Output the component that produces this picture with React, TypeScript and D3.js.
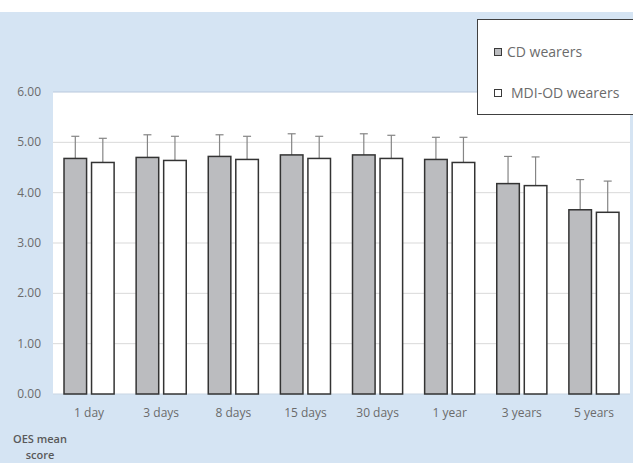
import React from 'react';
import * as d3 from 'd3';

const categories = ['1 day', '3 days', '8 days', '15 days', '30 days', '1 year', '3 years', '5 years'];
const cdMeans = [4.68, 4.70, 4.72, 4.75, 4.75, 4.66, 4.18, 3.66];
const cdUpper = [5.12, 5.15, 5.15, 5.17, 5.17, 5.10, 4.72, 4.26];
const mdiMeans = [4.60, 4.64, 4.66, 4.68, 4.68, 4.60, 4.14, 3.61];
const mdiUpper = [5.08, 5.12, 5.12, 5.12, 5.14, 5.10, 4.71, 4.23];
const yTicks = [0, 1, 2, 3, 4, 5, 6];
const seriesNames = ['CD wearers', 'MDI-OD wearers'];

const W = 633;
const H = 463;
const plot = { left: 53, right: 630, top: 92, bottom: 394 };
const font = '"Open Sans", "DejaVu Sans", sans-serif';

export default function App() {
  const x = d3.scaleBand<string>()
    .domain(categories)
    .range([plot.left, plot.right])
    .paddingInner(0)
    .paddingOuter(0);
  const y = d3.scaleLinear().domain([0, 6]).range([plot.bottom, plot.top]);
  const sub = d3.scaleBand<number>()
    .domain([0, 1])
    .range([0, x.bandwidth()])
    .paddingInner(0.18)
    .paddingOuter(0.4);

  const series = [
    { means: cdMeans, upper: cdUpper, fill: '#BBBCBF' },
    { means: mdiMeans, upper: mdiUpper, fill: '#FFFFFF' },
  ];

  return (
    <svg width={W} height={H} style={{ position: 'absolute', left: 0, top: 0, display: 'block' }}>
      <rect x={0} y={0} width={W} height={H} fill="#FFFFFF" />
      <rect x={0} y={12} width={W} height={H - 12} fill="#D5E4F3" />
      <rect x={plot.left} y={plot.top} width={plot.right - plot.left} height={plot.bottom - plot.top} fill="#FFFFFF" />

      {yTicks.map(t => (
        <g key={t}>
          {t > 0 && t < 6 && (
            <line x1={plot.left} x2={plot.right} y1={y(t)} y2={y(t)} stroke="#D9D9D9" strokeWidth={1} />
          )}
          <text x={41} y={y(t) + 4} textAnchor="end" fontFamily={font} fontSize={12} fill="#6b6b6b">
            {t.toFixed(2)}
          </text>
        </g>
      ))}
      <line x1={plot.left} x2={plot.right} y1={plot.top} y2={plot.top} stroke="#B8C8DC" strokeWidth={1} />
      <line x1={plot.left} x2={plot.right} y1={plot.bottom} y2={plot.bottom} stroke="#C9D5E3" strokeWidth={1} />

      {series.map((s, si) => (
        <g key={si}>
          {categories.map((c, i) => {
            const bx = (x(c) as number) + (sub(si) as number);
            const bw = sub.bandwidth();
            const cx = bx + bw / 2;
            return (
              <g key={c}>
                <line x1={cx} x2={cx} y1={y(s.means[i])} y2={y(s.upper[i])} stroke="#858585" strokeWidth={1.2} />
                <line x1={cx - 4} x2={cx + 4} y1={y(s.upper[i])} y2={y(s.upper[i])} stroke="#858585" strokeWidth={1.2} />
                <rect x={bx} y={y(s.means[i])} width={bw} height={y(0) - y(s.means[i])}
                  fill={s.fill} stroke="#333333" strokeWidth={1.5} />
              </g>
            );
          })}
        </g>
      ))}

      {categories.map(c => (
        <text key={c} x={(x(c) as number) + x.bandwidth() / 2} y={417} textAnchor="middle"
          fontFamily={font} fontSize={12} fill="#6b6b6b">{c}</text>
      ))}

      <text x={40} y={443} textAnchor="middle" fontFamily={font} fontSize={11} fontWeight={600} fill="#595959">OES mean</text>
      <text x={40} y={459} textAnchor="middle" fontFamily={font} fontSize={11} fontWeight={600} fill="#595959">score</text>

      <rect x={477.5} y={19.5} width={160} height={95} fill="#FFFFFF" stroke="#404040" strokeWidth={1} />
      {seriesNames.map((n, i) => (
        <g key={n}>
          <rect x={494.5} y={48.5 + i * 41} width={7} height={7} fill={series[i].fill} stroke="#3a3a3a" strokeWidth={1} />
          <text x={i === 0 ? 507 : 511} y={57 + i * 41} fontFamily={font} fontSize={14} fill="#6b6b6b">{n}</text>
        </g>
      ))}
    </svg>
  );
}
